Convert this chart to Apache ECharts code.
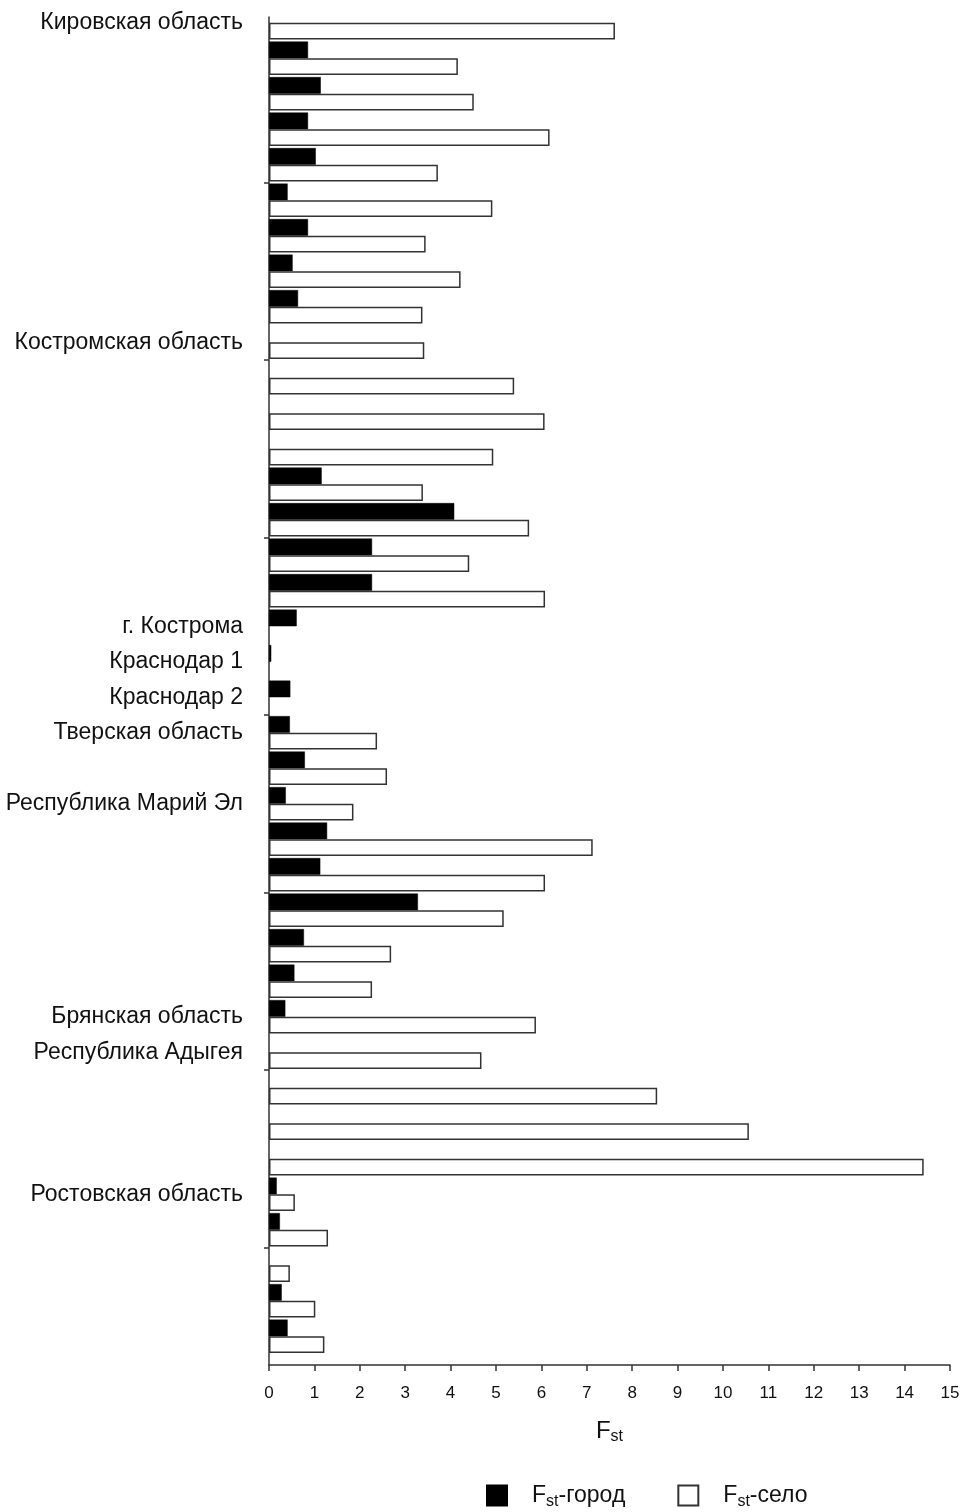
<!DOCTYPE html>
<html>
<head>
<meta charset="utf-8">
<script src="https://cdn.jsdelivr.net/npm/echarts@6/dist/echarts.min.js"></script>
<style>
  html, body { margin: 0; padding: 0; background: #ffffff; }
  #chart { width: 964px; height: 1512px; }
</style>
</head>
<body>
<div id="chart"></div>
<script>
// Region labels, one per row (rows without a label belong to the region above)
const regions = [
  'Кировская область', '', '', '', '', '', '', '', '',
  'Костромская область', '', '', '', '', '', '', '',
  'г. Кострома', 'Краснодар 1', 'Краснодар 2',
  'Тверская область', '',
  'Республика Марий Эл', '', '', '', '', '',
  'Брянская область',
  'Республика Адыгея', '', '', '',
  'Ростовская область', '', '', '', ''
];

// Fst, urban populations (null = no urban sample)
const fstCity = [
  null, 0.86, 1.14, 0.86, 1.03, 0.41, 0.86, 0.52, 0.64,
  null, null, null, null, 1.16, 4.08, 2.27, 2.27,
  0.61, 0.05, 0.47,
  0.46, 0.79,
  0.37, 1.28, 1.13, 3.28, 0.77, 0.56,
  0.36,
  null, null, null, null,
  0.17, 0.24, null, 0.28, 0.41
];

// Fst, rural populations (null = no rural sample)
const fstVillage = [
  7.62, 4.16, 4.51, 6.18, 3.72, 4.92, 3.45, 4.22, 3.38,
  3.42, 5.40, 6.07, 4.94, 3.39, 5.73, 4.41, 6.08,
  null, null, null,
  2.38, 2.60,
  1.86, 7.13, 6.08, 5.17, 2.69, 2.27,
  5.88,
  4.68, 8.55, 10.57, 14.42,
  0.57, 1.30, 0.46, 1.02, 1.22
];

// Value axis scale
const xMin = 0;
const xMax = 15;
const xStep = 1;

// Series names (F with subscript "st")
const seriesNames = ['Fst-город', 'Fst-село'];

// Rows are grouped by five on the left axis
const rowsPerGroup = 5;

// ---- layout ----
const H = 1512;
const plotLeft = 269, plotRight = 14;
const barsTop = 5, barsBottom = 1354;   // band area of the rows
const axisTop = 17, axisBottom = 1365;  // drawn extent of the axis lines
const band = (barsBottom - barsTop) / regions.length;
const axisMinRow = (axisTop - barsTop) / band;
const axisMaxRow = (axisBottom - barsTop) / band;
const groupBoundaries = [];
for (let b = rowsPerGroup; b < regions.length; b += rowsPerGroup) groupBoundaries.push(b);

const FONT = '"Liberation Sans", Arial, sans-serif';
const lineStyle = { color: '#333', width: 1.5 };

const chart = echarts.init(document.getElementById('chart'), null, { renderer: 'canvas' });

const subRich = {
  f: { fontSize: 24, fontFamily: FONT, color: '#111' },
  fl: { fontSize: 23, fontFamily: FONT, color: '#111', padding: [0, 0, 0, 20] },
  s: { fontSize: 16, fontFamily: FONT, color: '#111', padding: [12, 0, 0, 0] },
  t: { fontSize: 23, fontFamily: FONT, color: '#111' }
};

chart.setOption({
  animation: false,
  backgroundColor: '#ffffff',
  grid: [
    { left: plotLeft, right: plotRight, top: barsTop, bottom: H - barsBottom },
    { left: plotLeft, right: plotRight, top: axisTop, bottom: H - axisBottom }
  ],
  xAxis: [
    { gridIndex: 0, type: 'value', min: xMin, max: xMax, interval: xStep, show: false },
    {
      gridIndex: 1, type: 'value', min: xMin, max: xMax, interval: xStep,
      axisLine: { show: true, lineStyle: lineStyle },
      axisTick: { show: true, length: 6, lineStyle: lineStyle },
      axisLabel: { fontSize: 17, fontFamily: FONT, color: '#111', margin: 20 },
      splitLine: { show: false },
      name: '{f|F}{s|st}',
      nameLocation: 'middle',
      nameGap: 52,
      nameTextStyle: { rich: subRich }
    }
  ],
  yAxis: [
    {
      gridIndex: 0, type: 'category', inverse: true, data: regions,
      axisLine: { show: false },
      axisTick: { show: false },
      axisLabel: { interval: 0, fontSize: 23, fontFamily: FONT, color: '#111', margin: 26 }
    },
    {
      gridIndex: 1, type: 'value', inverse: true, min: axisMinRow, max: axisMaxRow,
      axisLine: { show: true, lineStyle: lineStyle },
      axisTick: { show: true, length: 5, lineStyle: lineStyle, customValues: groupBoundaries },
      axisLabel: { show: false },
      splitLine: { show: false }
    }
  ],
  legend: {
    left: 481, top: 1479,
    icon: 'rect', itemWidth: 20, itemHeight: 20, itemGap: 52,
    data: seriesNames,
    formatter: name => '{fl|F}{s|st}{t|' + name.slice(3) + '}',
    textStyle: { rich: subRich }
  },
  series: [
    {
      name: seriesNames[0], type: 'bar', xAxisIndex: 0, yAxisIndex: 0,
      data: fstCity, barGap: '0%', barCategoryGap: '6%',
      itemStyle: { color: '#000000', borderColor: '#000000', borderWidth: 0.5 }
    },
    {
      name: seriesNames[1], type: 'bar', xAxisIndex: 0, yAxisIndex: 0,
      data: fstVillage, barGap: '0%', barCategoryGap: '6%',
      itemStyle: { color: '#ffffff', borderColor: '#333333', borderWidth: 1.5 }
    }
  ]
});
</script>
</body>
</html>
